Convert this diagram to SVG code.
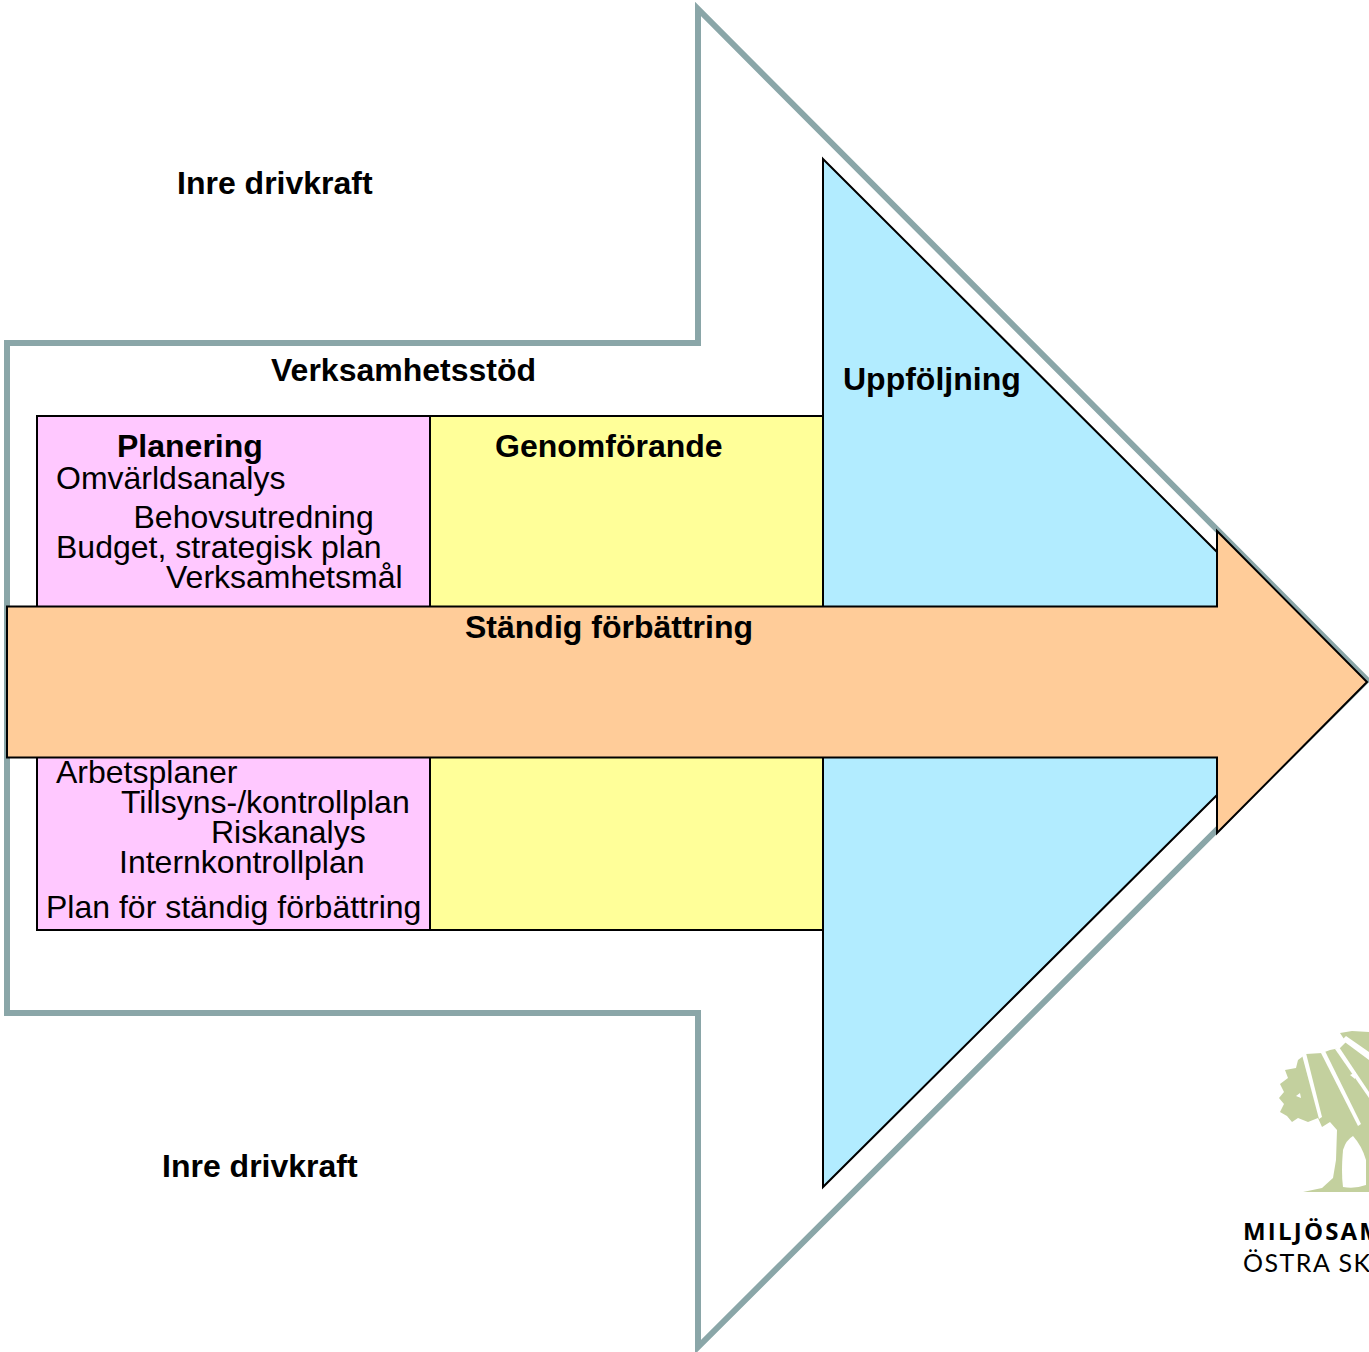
<svg xmlns="http://www.w3.org/2000/svg" width="1369" height="1352" viewBox="0 0 1369 1352">
<style>
.t{font-family:"Liberation Sans",Arial,sans-serif;font-size:32px;fill:#000}
.b{font-weight:700}
.s{stroke:#000;stroke-width:2}
.g{fill:#c3d09e}
.w{fill:#fff}
</style>
<rect width="1369" height="1352" fill="#fff"/>
<g id="outer-arrow"><polygon points="7,343 698,343 698,9 1367,680 698,1347 698,1013 7,1013" fill="#fff" stroke="#8aa6a8" stroke-width="6"/></g>
<g id="planering"><rect x="37" y="416" width="393" height="514" fill="#ffc8ff" class="s"/></g>
<g id="genomforande"><rect x="430" y="416" width="393" height="514" fill="#ffff99" class="s"/></g>
<g id="uppfoljning"><polygon points="823,159 1217,552 1217,795 823,1187" fill="#b2ecff" class="s"/></g>
<g id="forbattring"><polygon points="7,606.5 1217,606.5 1217,531 1367,682 1217,833 1217,757.5 7,757.5" fill="#ffcc99" class="s"/></g>
<g id="labels">
<text class="t b" x="177" y="194">Inre drivkraft</text>
<text class="t b" x="271" y="381">Verksamhetsstöd</text>
<text class="t b" x="117" y="457">Planering</text>
<text class="t" x="56" y="489">Omvärldsanalys</text>
<text class="t" x="133.500" y="528">Behovsutredning</text>
<text class="t" x="56" y="558">Budget, strategisk plan</text>
<text class="t" x="166" y="588">Verksamhetsmål</text>
<text class="t" x="56" y="783">Arbetsplaner</text>
<text class="t" x="121" y="813">Tillsyns-/kontrollplan</text>
<text class="t" x="211" y="843">Riskanalys</text>
<text class="t" x="119" y="873">Internkontrollplan</text>
<text class="t" x="46" y="918">Plan för ständig förbättring</text>
<text class="t b" x="495" y="457">Genomförande</text>
<text class="t b" x="843" y="390">Uppföljning</text>
<text class="t b" x="465" y="638">Ständig förbättring</text>
<text class="t b" x="162" y="1177">Inre drivkraft</text>
</g>
<g id="logo">
<path class="g" d="M1303,1192 L1322,1188 L1333,1178 L1336,1160 L1337,1130 L1330,1122 L1322,1127 L1318,1118 L1308,1122 L1298,1118 L1292,1122 L1287,1116 L1280,1112 L1284,1104 L1279,1098 L1284,1092 L1280,1084 L1288,1078 L1285,1070 L1296,1068 L1298,1060 L1306,1054 L1322,1053 L1330,1050 L1340,1048 L1346,1042 L1340,1033 L1352,1031 L1369,1032 L1369,1192 Z"/>
<path class="w" d="M1302,1055 L1306,1053 L1322,1117 L1319,1119 Z"/>
<path class="w" d="M1321,1053 L1325,1051 L1361,1124 L1358,1126 Z"/>
<path class="w" d="M1335,1049 L1339,1047 L1369,1092 L1369,1098 Z"/>
<path class="w" d="M1342,1040 L1346,1036 L1369,1052 L1369,1060 Z"/>
<path class="w" d="M1296,1096 l4,-3 l1,5 Z M1350,1075 l6,-3 l-1,7 Z"/>
<path class="w" d="M1343,1187 Q1341,1172 1343,1150 Q1346,1140 1353,1136 Q1362,1146 1366,1160 L1366,1185 Q1355,1189 1343,1187 Z"/>
<text x="1243" y="1240" font-family="Open Sans,sans-serif" font-weight="700" font-size="24" letter-spacing="2.2">MILJÖSAM</text>
<text x="1243" y="1272" font-family="Lato,sans-serif" font-size="25" letter-spacing="1.5">ÖSTRA SK</text>
</g>
</svg>
